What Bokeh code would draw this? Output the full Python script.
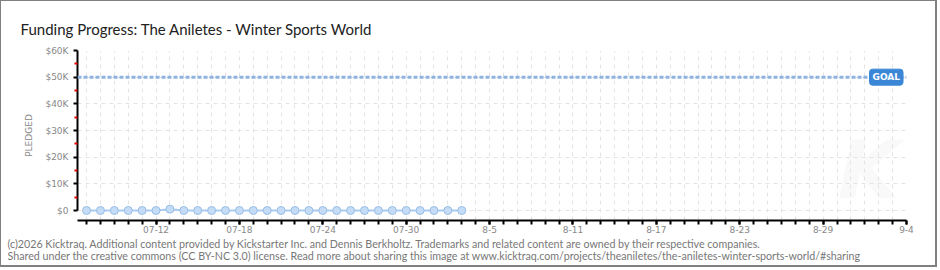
from bokeh.plotting import figure
from bokeh.models import ColumnDataSource, FixedTicker, Label, Span, Title
from bokeh.embed import file_html
from bokeh.resources import INLINE

# ---- data ----
end_day_index = 59  # 9-4 (day 0 = 07-07)
pledged = [0, 0, 0, 0, 0, 0, 500, 0, 0, 0, 0, 0, 0, 0,
           0, 0, 0, 0, 0, 0, 0, 0, 0, 0, 0, 0, 0, 0]
goal = 50000
x_tick_days = [5, 11, 17, 23, 29, 35, 41, 47, 53, 59]
x_tick_labels = ["07-12", "07-18", "07-24", "07-30", "8-5", "8-11", "8-17", "8-23", "8-29", "9-4"]
y_ticks = [0, 10000, 20000, 30000, 40000, 50000, 60000]
y_tick_labels = ["$0", "$10K", "$20K", "$30K", "$40K", "$50K", "$60K"]
y_minor = [5000, 15000, 25000, 35000, 45000, 55000]
title = "Funding Progress: The Aniletes - Winter Sports World"
footer1 = ("(c)2026 Kicktraq. Additional content provided by Kickstarter Inc. and Dennis Berkholtz. "
           "Trademarks and related content are owned by their respective companies.")
footer2 = ("Shared under the creative commons (CC BY-NC 3.0) license. Read more about sharing this image at "
           "www.kicktraq.com/projects/theaniletes/the-aniletes-winter-sports-world/#sharing")

days = list(range(len(pledged)))
src = ColumnDataSource(dict(x=days, y=pledged))

W, H = 937, 267
p = figure(width=W, height=H, output_backend="svg", toolbar_location=None,
           x_range=(-0.65, end_day_index), y_range=(-3750, 60000),
           min_border_left=76, min_border_right=32, min_border_top=49, min_border_bottom=48)
p.styles = {"border-top": "1px solid #808080", "border-left": "1px solid #808080",
            "border-right": "2px solid #808080", "border-bottom": "2px solid #808080"}
p.outline_line_color = None
p.background_fill_color = "white"

# faint watermark
p.add_layout(Label(x=56.3, y=15000, text="K", text_align="center", text_baseline="middle",
                   text_font="DejaVu Sans", text_font_size="80px", text_font_style="bold italic",
                   text_color="#f9f9f9", level="image"))

# grids
p.xgrid.ticker = FixedTicker(ticks=list(range(0, end_day_index + 1)))
p.xgrid.grid_line_color = "#e4e4e4"
p.xgrid.grid_line_dash = "4 4"
p.ygrid.ticker = FixedTicker(ticks=y_ticks)
p.ygrid.grid_line_color = "#e4e4e4"
p.ygrid.grid_line_dash = "4 4"

# x axis
xa = p.xaxis[0]
xa.ticker = FixedTicker(ticks=x_tick_days, minor_ticks=list(range(0, end_day_index + 1)))
xa.major_label_overrides = {d: l for d, l in zip(x_tick_days, x_tick_labels)}
xa.axis_line_color = "black"
xa.axis_line_width = 2
xa.major_tick_line_color = "black"
xa.minor_tick_line_color = "black"
xa.major_tick_line_width = 2
xa.minor_tick_line_width = 2
xa.major_tick_in = 0
xa.major_tick_out = 4
xa.minor_tick_in = 0
xa.minor_tick_out = 4
xa.major_label_text_font = "DejaVu Sans"
xa.major_label_text_font_size = "9px"
xa.major_label_text_color = "#888888"
xa.major_label_standoff = 1

# y axis
ya = p.yaxis[0]
ya.ticker = FixedTicker(ticks=y_ticks, minor_ticks=y_minor)
ya.major_label_overrides = {t: l for t, l in zip(y_ticks, y_tick_labels)}
ya.bounds = (0, 60000)
ya.axis_line_color = "black"
ya.axis_line_width = 2
ya.major_tick_line_color = "black"
ya.major_tick_line_width = 2
ya.major_tick_in = 0
ya.major_tick_out = 4
ya.minor_tick_line_color = "#e00000"
ya.minor_tick_line_width = 2
ya.minor_tick_in = 0
ya.minor_tick_out = 3
ya.major_label_text_font = "DejaVu Sans"
ya.major_label_text_font_size = "9px"
ya.major_label_text_color = "#888888"
ya.major_label_standoff = 5
ya.axis_label = "PLEDGED"
ya.axis_label_text_font = "DejaVu Sans"
ya.axis_label_text_font_size = "9px"
ya.axis_label_text_font_style = "normal"
ya.axis_label_text_color = "#888888"
ya.axis_label_standoff = 8

# goal line
p.add_layout(Span(location=goal, dimension="width", line_color="#8fb3e0",
                  line_width=3, line_dash="4 2"))
gl = Label(x=end_day_index - 0.25, y=goal, text="GOAL", text_align="right", text_baseline="middle",
           text_color="white", text_font="DejaVu Sans", text_font_size="9px",
           text_font_style="bold",
           background_fill_color="#3b87d6", border_line_color="#3b87d6",
           border_radius=3, padding=3)
p.add_layout(gl)

# data
p.line("x", "y", source=src, line_color="#a8cbef", line_width=2)
p.scatter("x", "y", source=src, size=8, fill_color="#c4dcf6", line_color="#98bde6", line_width=1)

# texts
p.add_layout(Title(text=title, align="left", offset=-57, standoff=25,
                   text_font="Lato", text_font_size="15px", text_font_style="normal",
                   text_color="#222222"), "above")
p.add_layout(Title(text=footer1, align="left", offset=-70, standoff=-2,
                   text_font="Lato", text_font_size="10.7px", text_font_style="normal",
                   text_color="#777777"), "below")
p.add_layout(Title(text=footer2, align="left", offset=-70, standoff=-3,
                   text_font="Lato", text_font_size="10.7px", text_font_style="normal",
                   text_color="#777777"), "below")

open("out.html", "w").write(file_html(p, INLINE))
